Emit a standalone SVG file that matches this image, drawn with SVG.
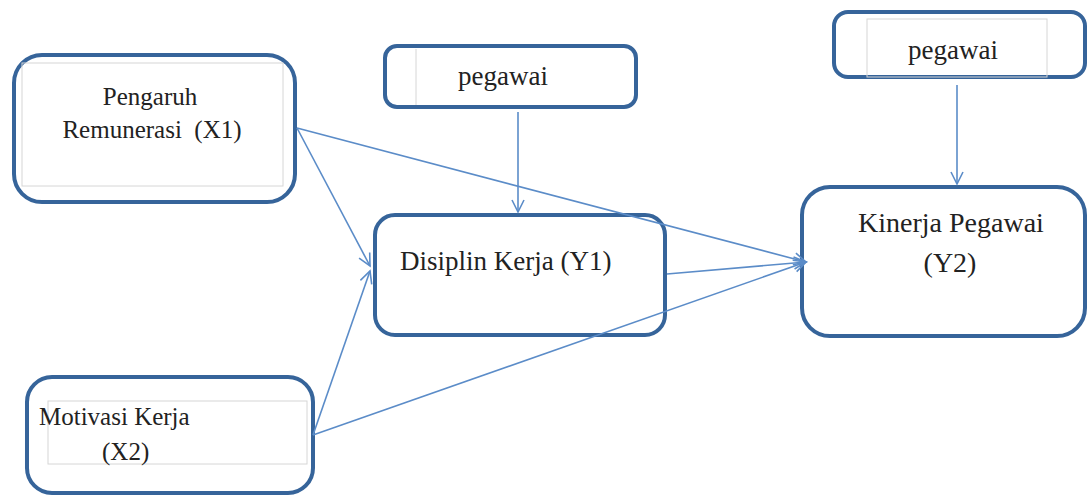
<svg xmlns="http://www.w3.org/2000/svg" width="1088" height="497" viewBox="0 0 1088 497">
  <style>
    .box { fill: #ffffff; stroke: #36649a; stroke-width: 4; }
    .inner { fill: none; stroke: #d6d6d6; stroke-width: 1; }
    .lbl { font-family: "Liberation Serif", "Times New Roman", serif; fill: #222222; }
    .conn { stroke: #5b8cc8; stroke-width: 1.6; fill: none; marker-end: url(#arrow); }
  </style>
  <defs>
    <marker id="arrow" markerUnits="userSpaceOnUse" markerWidth="16" markerHeight="16" refX="13" refY="7" orient="auto">
      <path d="M1,1 L13,7 L1,13" fill="none" stroke="#5b8cc8" stroke-width="1.6"/>
    </marker>
  </defs>

  <rect width="1088" height="497" fill="#ffffff"/>

  <!-- X1 -->
  <g id="x1">
    <rect class="box" x="14" y="55" width="281" height="147" rx="28"/>
    <rect class="inner" x="22" y="63" width="261" height="123"/>
    <text class="lbl" x="150" y="105" font-size="25" text-anchor="middle">Pengaruh</text>
    <text class="lbl" x="152" y="138" font-size="25" text-anchor="middle" xml:space="preserve">Remunerasi  (X1)</text>
  </g>

  <!-- pegawai (top centre) -->
  <g id="pegawai1">
    <rect class="box" x="385" y="46" width="251" height="61" rx="12"/>
    <line class="inner" x1="416" y1="49" x2="416" y2="105"/>
    <text class="lbl" x="503" y="85" font-size="27" text-anchor="middle">pegawai</text>
  </g>

  <!-- Y1 -->
  <g id="y1">
    <rect class="box" x="375" y="215" width="290" height="120" rx="20"/>
    <text class="lbl" x="400" y="270" font-size="27">Disiplin Kerja (Y1)</text>
  </g>

  <!-- pegawai (top right) -->
  <g id="pegawai2">
    <rect class="box" x="834" y="12" width="251" height="65" rx="14"/>
    <rect class="inner" x="867" y="19" width="180" height="58"/>
    <text class="lbl" x="953" y="59" font-size="27" text-anchor="middle">pegawai</text>
  </g>

  <!-- Y2 -->
  <g id="y2">
    <rect class="box" x="802" y="187" width="283" height="149" rx="28"/>
    <text class="lbl" x="951" y="232" font-size="28" text-anchor="middle">Kinerja Pegawai</text>
    <text class="lbl" x="950" y="272" font-size="28" text-anchor="middle">(Y2)</text>
  </g>

  <!-- X2 -->
  <g id="x2">
    <rect class="box" x="27" y="377" width="286" height="116" rx="25"/>
    <rect class="inner" x="48" y="401" width="259" height="63"/>
    <text class="lbl" x="39" y="425" font-size="25">Motivasi Kerja</text>
    <text class="lbl" x="102" y="460" font-size="25">(X2)</text>
  </g>

  <!-- connectors, drawn over the boxes they cross -->
  <g id="connectors">
    <line class="conn" x1="297" y1="128" x2="370" y2="266"/>
    <line class="conn" x1="313" y1="435" x2="370" y2="271"/>
    <line class="conn" x1="297" y1="128" x2="806" y2="262"/>
    <line class="conn" x1="667" y1="274" x2="806" y2="262"/>
    <line class="conn" x1="313" y1="435" x2="806" y2="262"/>
    <line class="conn" x1="518" y1="112" x2="518" y2="212"/>
    <line class="conn" x1="957" y1="85" x2="957" y2="184"/>
  </g>
</svg>
